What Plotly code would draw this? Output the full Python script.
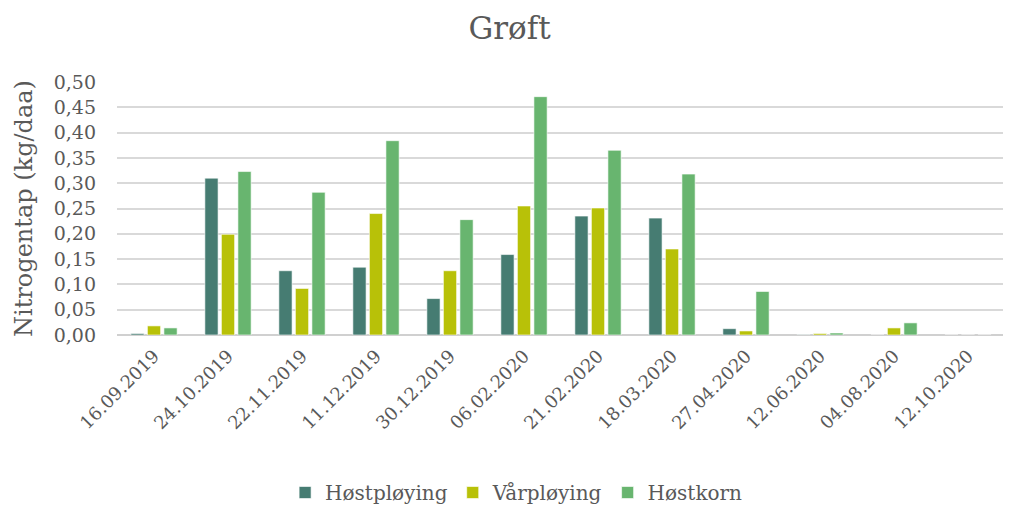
import plotly.graph_objects as go

dates = ["16.09.2019", "24.10.2019", "22.11.2019", "11.12.2019", "30.12.2019", "06.02.2020",
         "21.02.2020", "18.03.2020", "27.04.2020", "12.06.2020", "04.08.2020", "12.10.2020"]
hostploying = [0.003, 0.310, 0.127, 0.134, 0.072, 0.159, 0.235, 0.231, 0.0125, 0.0005, 0.0, 0.0]
varploying = [0.018, 0.199, 0.092, 0.240, 0.127, 0.255, 0.251, 0.170, 0.008, 0.003, 0.014, 0.0]
hostkorn = [0.014, 0.323, 0.282, 0.384, 0.228, 0.471, 0.365, 0.318, 0.086, 0.004, 0.024, 0.0]

series = [("Høstpløying", hostploying, "#467C72"),
          ("Vårpløying", varploying, "#B8C108"),
          ("Høstkorn", hostkorn, "#68B56F")]

FONT = "DejaVu Serif"
TXT = "#595959"

fig = go.Figure()
for name, vals, col in series:
    fig.add_trace(go.Bar(x=dates, y=vals, name=name, marker_color=col,
                         marker_line=dict(color="rgba(255,255,255,0.6)", width=1)))

fig.update_layout(
    width=1003, height=504,
    barmode="group", bargap=0.33, bargroupgap=0.2,
    plot_bgcolor="white", paper_bgcolor="white",
    separators=", ",
    font=dict(family=FONT, color=TXT),
    margin=dict(l=109, r=6, t=74, b=177),
    title=dict(text="Grøft", x=0.5, xanchor="center", y=0.96, yanchor="middle",
               font=dict(size=31, family=FONT, color=TXT)),
    xaxis=dict(tickangle=-45, tickfont=dict(size=18, family=FONT, color=TXT),
               showgrid=False, showline=False, ticks="", automargin=False,
               ticklabelstandoff=6),
    yaxis=dict(range=[0, 0.5], dtick=0.05, tickformat=".2f", automargin=False,
               tickfont=dict(size=19, family=FONT, color=TXT), ticklabelstandoff=20,
               gridcolor="#D9D9D9", gridwidth=1.5,
               zeroline=True, zerolinecolor="#D0D0D0", zerolinewidth=2,
               title=dict(text="Nitrogentap (kg/daa)", font=dict(size=24, family=FONT, color=TXT),
                          standoff=14)),
    legend=dict(orientation="h", x=0.45, xanchor="center",
                yref="container", y=0.0, yanchor="bottom",
                font=dict(size=20, family=FONT, color=TXT)),
)

fig.write_html("out.html")
